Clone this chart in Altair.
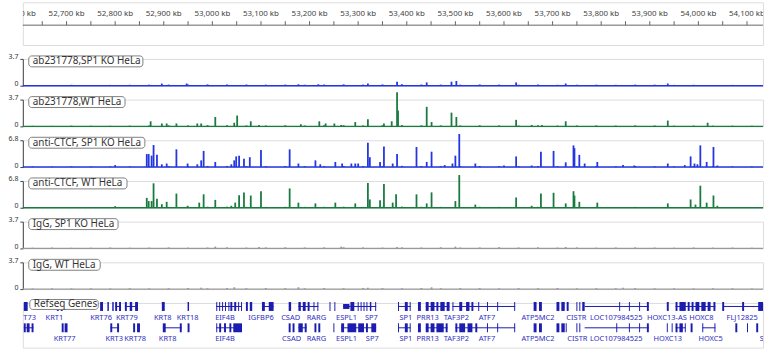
import altair as alt
import pandas as pd

# ---------------- data ----------------
KB_START, KB_END = 52610, 54133          # visible genomic window (kb)

ruler_ticks = list(range(52600, 54151, 50))
ruler_labels = list(range(52600, 54101, 100))

track_names = ["ab231778,SP1 KO HeLa", "ab231778,WT HeLa", "anti-CTCF, SP1 KO HeLa",
               "anti-CTCF, WT HeLa", "IgG, SP1 KO HeLa", "IgG, WT HeLa"]
track_max = [3.7, 3.7, 6.8, 6.8, 3.7, 3.7]

# peaks: (position kb, signal)
peaks_ab_ko = [(52896, 0.3), (52947, 0.3), (53177, 0.2), (53218, 0.2), (53320, 0.3), (53380, 0.55),
               (53441, 0.45), (53492, 0.55), (53502, 0.65), (53625, 0.45), (53727, 0.3), (53937, 0.3)]
peaks_ab_wt = [(52873, 0.7), (52896, 0.4), (52906, 0.4), (52926, 0.4), (52969, 0.4), (52977, 0.4),
               (53006, 1.3), (53045, 0.5), (53051, 1.5), (53079, 0.7), (53096, 0.2), (53182, 0.3),
               (53220, 0.7), (53233, 0.4), (53251, 0.4), (53265, 0.2), (53294, 0.6), (53320, 1.0),
               (53353, 0.4), (53369, 0.7), (53380, 4.7), (53382, 2.2), (53441, 2.7), (53451, 0.6),
               (53492, 1.9), (53502, 1.3), (53625, 0.9), (53657, 0.2), (53678, 0.2), (53727, 0.7),
               (53937, 0.8), (54019, 0.5)]
peaks_ctcf_ko = [(52800, 0.5), (52865, 3.3), (52869, 3.3), (52875, 2.9), (52879, 5.6), (52886, 3.1),
                 (52896, 0.7), (52906, 0.9), (52926, 4.5), (52949, 0.9), (52969, 0.7), (52977, 1.7),
                 (52982, 4.1), (53006, 1.3), (53039, 0.7), (53045, 1.7), (53049, 2.7), (53055, 2.9),
                 (53065, 2.1), (53077, 2.5), (53100, 4.3), (53159, 4.5), (53177, 0.9), (53212, 1.7),
                 (53222, 0.7), (53253, 1.3), (53267, 0.9), (53286, 0.9), (53294, 0.9), (53300, 0.9),
                 (53320, 6.2), (53324, 2.5), (53345, 1.3), (53353, 5.2), (53371, 0.9), (53380, 3.3),
                 (53420, 5.1), (53441, 1.3), (53451, 3.9), (53478, 0.5), (53494, 0.9), (53500, 2.9),
                 (53508, 8.4), (53541, 0.9), (53600, 0.4), (53625, 2.7), (53657, 0.4), (53676, 3.9),
                 (53702, 4.1), (53727, 1.2), (53743, 5.5), (53745, 4.8), (53755, 3.1), (53766, 0.9),
                 (53792, 1.3), (53845, 0.5), (53868, 0.4), (53937, 0.9), (53972, 0.5), (53984, 2.7),
                 (53992, 0.9), (53998, 0.7), (54004, 5.5), (54017, 1.3), (54031, 5.1), (54039, 0.4)]
peaks_ctcf_wt = [(52800, 0.4), (52865, 2.5), (52869, 1.7), (52875, 1.7), (52879, 6.2), (52886, 2.3),
                 (52896, 0.9), (52906, 1.5), (52926, 3.6), (52949, 0.5), (52973, 1.3), (52982, 3.4),
                 (53006, 2.0), (53039, 0.5), (53047, 1.3), (53055, 3.2), (53065, 3.9), (53079, 3.1),
                 (53100, 4.2), (53159, 4.9), (53177, 1.3), (53212, 1.1), (53253, 1.3), (53294, 1.1),
                 (53320, 6.3), (53324, 2.1), (53345, 1.9), (53353, 6.0), (53371, 1.3), (53378, 3.4),
                 (53420, 3.4), (53441, 1.1), (53451, 3.9), (53500, 1.7), (53508, 8.3), (53541, 0.8),
                 (53625, 2.6), (53657, 0.5), (53676, 3.6), (53702, 3.8), (53727, 1.1), (53743, 4.2),
                 (53745, 3.1), (53755, 1.5), (53792, 1.3), (53937, 1.1), (53984, 2.1), (53994, 0.8),
                 (54004, 5.6), (54017, 1.3), (54031, 3.1), (54039, 0.5)]
peaks_igg_ko = [(53006, 0.25), (53096, 0.2), (53265, 0.25), (53380, 0.2), (53500, 0.25), (53727, 0.2)]
peaks_igg_wt = [(52977, 0.2), (53045, 0.25), (53177, 0.25), (53320, 0.2), (53451, 0.25), (53845, 0.2)]

# low background signal, one value every 40 kb from 52630 kb
bg_start, bg_step = 52630, 40
bg_ab_ko = [0.10, 0.09, 0.12, 0.10, 0.11, 0.12, 0.14, 0.15, 0.16, 0.18, 0.17, 0.16, 0.14, 0.15, 0.13,
            0.16, 0.18, 0.15, 0.17, 0.20, 0.16, 0.15, 0.14, 0.17, 0.15, 0.13, 0.16, 0.12, 0.13, 0.14,
            0.12, 0.15, 0.14, 0.11, 0.12, 0.10, 0.11, 0.10]
bg_ab_wt = [0.08, 0.07, 0.10, 0.09, 0.08, 0.10, 0.12, 0.14, 0.13, 0.16, 0.15, 0.13, 0.12, 0.14, 0.12,
            0.15, 0.16, 0.13, 0.15, 0.17, 0.14, 0.13, 0.12, 0.15, 0.13, 0.11, 0.14, 0.11, 0.12, 0.13,
            0.11, 0.13, 0.12, 0.10, 0.11, 0.09, 0.10, 0.09]
bg_ctcf_ko = [0.15, 0.12, 0.18, 0.14, 0.16, 0.15, 0.20, 0.22, 0.25, 0.28, 0.26, 0.24, 0.22, 0.25, 0.21,
              0.24, 0.27, 0.23, 0.26, 0.30, 0.25, 0.23, 0.22, 0.26, 0.23, 0.20, 0.24, 0.19, 0.21, 0.22,
              0.19, 0.23, 0.21, 0.17, 0.19, 0.16, 0.17, 0.15]
bg_ctcf_wt = [0.14, 0.13, 0.16, 0.15, 0.17, 0.14, 0.19, 0.21, 0.24, 0.26, 0.27, 0.23, 0.21, 0.24, 0.22,
              0.23, 0.26, 0.22, 0.25, 0.28, 0.24, 0.22, 0.21, 0.25, 0.22, 0.19, 0.23, 0.18, 0.20, 0.21,
              0.18, 0.22, 0.20, 0.16, 0.18, 0.15, 0.16, 0.14]
bg_igg_ko = [0.10, 0.12, 0.09, 0.11, 0.13, 0.10, 0.12, 0.14, 0.11, 0.13, 0.15, 0.12, 0.14, 0.16, 0.13,
             0.15, 0.17, 0.14, 0.12, 0.15, 0.13, 0.16, 0.12, 0.14, 0.17, 0.13, 0.15, 0.12, 0.14, 0.11,
             0.13, 0.15, 0.12, 0.10, 0.13, 0.11, 0.12, 0.10]
bg_igg_wt = [0.09, 0.11, 0.10, 0.12, 0.10, 0.13, 0.11, 0.13, 0.15, 0.12, 0.14, 0.13, 0.16, 0.14, 0.12,
             0.15, 0.13, 0.16, 0.14, 0.12, 0.15, 0.13, 0.14, 0.16, 0.12, 0.14, 0.13, 0.15, 0.11, 0.13,
             0.12, 0.14, 0.11, 0.12, 0.10, 0.12, 0.11, 0.09]

track_peaks = [peaks_ab_ko, peaks_ab_wt, peaks_ctcf_ko, peaks_ctcf_wt, peaks_igg_ko, peaks_igg_wt]
track_bg = [bg_ab_ko, bg_ab_wt, bg_ctcf_ko, bg_ctcf_wt, bg_igg_ko, bg_igg_wt]

# RefSeq gene features: (kind, start kb, end kb); e = exon, u = UTR, i = intron line
genes_row1 = [
    ("e", 52612, 52620), ("e", 52680, 52684), ("e", 52688, 52692),
    ("e", 52769, 52775), ("e", 52784, 52787), ("e", 52794, 52797),
    ("i", 52800, 52812), ("e", 52800, 52804), ("e", 52808, 52812),
    ("i", 52820, 52847), ("e", 52820, 52824), ("e", 52830, 52835), ("e", 52841, 52847),
    ("e", 52896, 52902), ("e", 52949, 52952),
    ("i", 53008, 53061), ("e", 53008, 53010), ("e", 53014, 53016), ("e", 53020, 53022),
    ("e", 53026, 53028), ("e", 53033, 53035), ("e", 53037, 53041), ("e", 53045, 53049),
    ("e", 53053, 53055), ("e", 53059, 53061),
    ("e", 53069, 53073), ("e", 53077, 53082),
    ("i", 53102, 53126), ("e", 53102, 53108), ("e", 53116, 53126),
    ("e", 53157, 53162),
    ("i", 53177, 53218), ("e", 53177, 53182), ("e", 53186, 53192), ("e", 53196, 53200),
    ("e", 53208, 53210), ("e", 53216, 53218),
    ("e", 53241, 53243), ("e", 53251, 53253),
    ("i", 53269, 53337), ("u", 53269, 53282), ("e", 53284, 53292), ("e", 53299, 53301),
    ("e", 53305, 53307), ("e", 53311, 53313), ("e", 53317, 53319), ("e", 53324, 53327),
    ("e", 53335, 53337),
    ("i", 53382, 53408), ("e", 53382, 53384), ("e", 53396, 53402), ("e", 53406, 53408),
    ("e", 53423, 53429),
    ("i", 53439, 53488), ("e", 53439, 53445), ("e", 53449, 53457), ("e", 53461, 53465),
    ("e", 53469, 53478), ("e", 53482, 53488),
    ("i", 53494, 53623), ("e", 53494, 53496), ("e", 53508, 53514), ("e", 53522, 53529),
    ("e", 53533, 53537), ("e", 53547, 53549), ("e", 53565, 53567), ("e", 53586, 53588),
    ("e", 53621, 53623),
    ("e", 53661, 53667), ("e", 53672, 53678),
    ("e", 53708, 53714), ("e", 53718, 53725), ("e", 53729, 53733),
    ("e", 53749, 53751), ("e", 53755, 53757), ("e", 53761, 53766),
    ("i", 53766, 53898), ("e", 53837, 53839), ("e", 53857, 53859), ("e", 53878, 53880),
    ("e", 53894, 53898),
    ("e", 53935, 53939),
    ("i", 53953, 54035), ("e", 53953, 53957), ("e", 53961, 53974), ("e", 53978, 53982),
    ("e", 53986, 53990), ("e", 53994, 54002), ("e", 54006, 54015), ("e", 54019, 54025),
    ("e", 54031, 54035),
    ("i", 54051, 54133), ("e", 54049, 54053), ("e", 54090, 54094), ("e", 54123, 54133),
]
genes_row2 = [
    ("i", 52612, 52632), ("e", 52612, 52616), ("e", 52618, 52624), ("e", 52628, 52632),
    ("e", 52690, 52694), ("e", 52696, 52702),
    ("i", 52790, 52808), ("e", 52790, 52794), ("e", 52804, 52808),
    ("e", 52837, 52841), ("e", 52845, 52851),
    ("i", 52898, 52937), ("e", 52898, 52904), ("e", 52933, 52937),
    ("e", 52949, 52953),
    ("i", 53008, 53061), ("e", 53008, 53010), ("e", 53014, 53018), ("e", 53024, 53028),
    ("e", 53035, 53039), ("e", 53043, 53061),
    ("e", 53157, 53161), ("e", 53165, 53169),
    ("i", 53177, 53194), ("e", 53177, 53186), ("e", 53190, 53194),
    ("e", 53210, 53214), ("e", 53218, 53222),
    ("e", 53249, 53251),
    ("i", 53265, 53337), ("e", 53265, 53271), ("e", 53278, 53296), ("e", 53300, 53312),
    ("e", 53316, 53320), ("e", 53327, 53337),
    ("i", 53382, 53408), ("e", 53382, 53384), ("e", 53396, 53402), ("e", 53406, 53408),
    ("e", 53423, 53429),
    ("i", 53439, 53484), ("e", 53439, 53445), ("e", 53449, 53457), ("e", 53461, 53476),
    ("e", 53480, 53484),
    ("i", 53500, 53623), ("e", 53500, 53504), ("e", 53508, 53520), ("e", 53525, 53535),
    ("e", 53541, 53545), ("e", 53565, 53567), ("e", 53586, 53588), ("e", 53621, 53623),
    ("e", 53661, 53667), ("e", 53672, 53678),
    ("e", 53708, 53714), ("e", 53718, 53725), ("e", 53727, 53729),
    ("e", 53749, 53751), ("e", 53755, 53757),
    ("i", 53766, 53898), ("e", 53831, 53833), ("e", 53857, 53859), ("e", 53878, 53880),
    ("e", 53894, 53898),
    ("e", 53935, 53937), ("e", 53945, 53947),
    ("i", 53953, 53974), ("e", 53953, 53957), ("e", 53961, 53968), ("e", 53972, 53974),
    ("e", 53984, 53988),
    ("i", 54008, 54035), ("e", 54008, 54010), ("e", 54033, 54035),
    ("e", 54076, 54080), ("e", 54100, 54102), ("e", 54119, 54123),
]
gene_labels_row1 = [("T73", 52624), ("KRT1", 52675), ("KRT76", 52771), ("KRT79", 52824), ("KRT8", 52898),
                    ("KRT18", 52949), ("EIF4B", 53026), ("IGFBP6", 53100), ("CSAD", 53161), ("RARG", 53214),
                    ("ESPL1", 53276), ("SP7", 53327), ("SP1", 53398), ("PRR13", 53443), ("TAF3P2", 53502),
                    ("ATF7", 53565), ("ATP5MC2", 53670), ("CISTR", 53749), ("LOC107984525", 53831),
                    ("HOXC13-AS", 53935), ("HOXC8", 54006), ("FLJ12825", 54090)]
gene_labels_row2 = [("KRT77", 52696), ("KRT3", 52798), ("KRT78", 52841), ("KRT8", 52908), ("EIF4B", 53026),
                    ("CSAD", 53163), ("RARG", 53214), ("ESPL1", 53276), ("SP7", 53329), ("SP1", 53398),
                    ("PRR13", 53443), ("TAF3P2", 53502), ("ATF7", 53565), ("ATP5MC2", 53670),
                    ("CISTR", 53751), ("LOC107984525", 53831), ("HOXC13", 53937), ("HOXC5", 54025),
                    ("SMUG1", 54153)]

# ---------------- styles ----------------
BLUE = "#2436e0"
GREEN = "#1b7a40"
GRAY = "#9a9a9a"
GENE = "#1c1cb0"
GENE_TXT = "#2e2ec0"
FONT = "Noto Sans"
track_colors = [BLUE, GREEN, BLUE, GREEN, GRAY, GRAY]
box_widths = [115, 97, 117, 99, 90, 72]
W = 746
TRACK_H = 27

xscale = alt.Scale(domain=[KB_START, KB_END], nice=False, zero=False)


def track_chart(i):
    ymax = track_max[i]
    color = track_colors[i]
    yscale = alt.Scale(domain=[0, ymax], nice=False, zero=True)
    yaxis = alt.Axis(values=[0, ymax], labelExpr="datum.value == 0 ? '0' : format(datum.value, '.1f')",
                     title=None, grid=False, tickSize=3,
                     tickColor="#444", domainColor="#444", domainWidth=1, tickWidth=1,
                     labelFontSize=7, labelFont=FONT, labelColor="#333", labelPadding=2,
                     labelBaseline="alphabetic", labelOverlap=False, labelFlush=False,
                     minExtent=22, maxExtent=22)
    pk = pd.DataFrame(track_peaks[i], columns=["kb", "v"])
    pk["z"] = 0.0
    bg = pd.DataFrame({"kb": [bg_start + bg_step * k for k in range(len(track_bg[i]))],
                       "v": track_bg[i]})
    bg["z"] = 0.0
    base = pd.DataFrame({"kb": [KB_START], "kb2": [KB_END], "v": [0.0]})
    lab = pd.DataFrame({"label": [track_names[i]]})

    line = alt.Chart(base).mark_rule(color=color, strokeWidth=1.4).encode(
        x=alt.X("kb:Q", scale=xscale, axis=None), x2="kb2:Q",
        y=alt.Y("v:Q", scale=yscale, axis=yaxis))
    bgl = alt.Chart(bg).mark_rule(color=color, strokeWidth=2).encode(
        x=alt.X("kb:Q", scale=xscale, axis=None),
        y=alt.Y("v:Q", scale=yscale, axis=yaxis), y2="z:Q")
    pkl = alt.Chart(pk).mark_rule(color=color, strokeWidth=1.8).encode(
        x=alt.X("kb:Q", scale=xscale, axis=None),
        y=alt.Y("v:Q", scale=yscale, axis=yaxis), y2="z:Q")
    box = alt.Chart(lab).mark_rect(fill="white", stroke="#808080", strokeWidth=1,
                                   cornerRadius=3).encode(
        x=alt.value(6), x2=alt.value(6 + box_widths[i]), y=alt.value(-3), y2=alt.value(8))
    txt = alt.Chart(lab).mark_text(align="left", baseline="middle", fontSize=10, font=FONT,
                                   color="#333").encode(
        x=alt.value(10), y=alt.value(2.5), text="label:N")
    return alt.layer(line, bgl, pkl, box, txt).properties(width=W, height=TRACK_H)


# ruler
rt = pd.DataFrame({"kb": ruler_ticks})
rl = pd.DataFrame({"kb": ruler_labels, "t": [f"{v:,} kb" for v in ruler_labels]})
rline = pd.DataFrame({"kb": [KB_START], "kb2": [KB_END]})
ruler = alt.layer(
    alt.Chart(rline).mark_rule(color="#666", strokeWidth=1).encode(
        x=alt.X("kb:Q", scale=xscale, axis=None), x2="kb2:Q", y=alt.value(23)),
    alt.Chart(rt).mark_rule(color="#666", strokeWidth=1, clip=True).encode(
        x=alt.X("kb:Q", scale=xscale, axis=None), y=alt.value(19), y2=alt.value(23)),
    alt.Chart(rl).mark_text(fontSize=8, font=FONT, color="#444", clip=True).encode(
        x=alt.X("kb:Q", scale=xscale, axis=None), y=alt.value(12), text="t:N"),
).properties(width=W, height=43)

# genes
gdf = pd.DataFrame([(1, k, s, e) for k, s, e in genes_row1] + [(2, k, s, e) for k, s, e in genes_row2],
                   columns=["row", "kind", "s", "e"])
gl = pd.DataFrame([(1, n, p) for n, p in gene_labels_row1] + [(2, n, p) for n, p in gene_labels_row2],
                  columns=["row", "name", "kb"])
yrow = alt.Y("row:O", scale=alt.Scale(type="point", domain=[1, 2], range=[3.5, 25], padding=0), axis=None)
gbox = pd.DataFrame({"label": ["Refseq Genes"]})
genes = alt.layer(
    alt.Chart(gdf[gdf.kind == "i"]).mark_rule(color=GENE, strokeWidth=1).encode(
        x=alt.X("s:Q", scale=xscale, axis=None), x2="e:Q", y=yrow),
    alt.Chart(gdf[gdf.kind == "u"]).mark_rule(color=GENE, strokeWidth=5, strokeCap="butt").encode(
        x=alt.X("s:Q", scale=xscale, axis=None), x2="e:Q", y=yrow),
    alt.Chart(gdf[gdf.kind == "e"]).mark_rule(color=GENE, strokeWidth=9, strokeCap="butt").encode(
        x=alt.X("s:Q", scale=xscale, axis=None), x2="e:Q", y=yrow),
    alt.Chart(gl).mark_text(fontSize=7.5, font=FONT, color=GENE_TXT, dy=11.5, clip=True).encode(
        x=alt.X("kb:Q", scale=xscale, axis=None), y=yrow, text="name:N"),
    alt.Chart(gbox).mark_rect(fill="white", stroke="#808080", strokeWidth=1, cornerRadius=3).encode(
        x=alt.value(7), x2=alt.value(76), y=alt.value(-3.5), y2=alt.value(6.5)),
    alt.Chart(gbox).mark_text(align="left", baseline="middle", fontSize=10, font=FONT,
                              color="#333").encode(
        x=alt.value(11), y=alt.value(1.5), text="label:N"),
).properties(width=W, height=45)

chart = alt.vconcat(ruler, *[track_chart(i) for i in range(6)], genes,
                    spacing=14, bounds="flush").properties(
    padding={"left": 0, "top": 0, "right": 0, "bottom": 0}
).configure_view(stroke=None).configure(background="white")

chart.save("out.html", embed_options={"renderer": "svg", "actions": False})
